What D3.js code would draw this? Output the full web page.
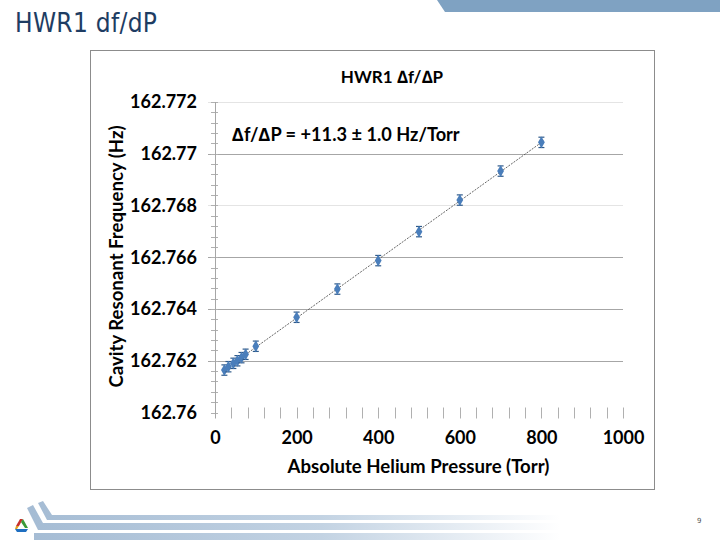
<!DOCTYPE html>
<html><head><meta charset="utf-8">
<script src="https://cdn.jsdelivr.net/npm/d3@7"></script>
<style>body{margin:0;background:#fff}svg{display:block}</style>
</head><body>
<script>
// ---- data ----
const pressure = [23, 33, 45, 55, 65, 75, 100, 200, 300, 400, 500, 600, 700, 800];
const frequency = [162.76164, 162.76177, 162.76190, 162.76200, 162.76212, 162.76225, 162.76256,
                   162.76368, 162.76477, 162.76587, 162.76699, 162.76821, 162.76933, 162.77044];
const freqErr = [0.0002,0.0002,0.0002,0.0002,0.0002,0.0002,0.0002,0.0002,0.0002,0.0002,0.0002,0.0002,0.0002,0.0002];
const pressErr = [4,4,4,4,4,4,4,4,4,4,4,4,4,4];
const yTicks = [162.76, 162.762, 162.764, 162.766, 162.768, 162.77, 162.772];
const yTickLabels = ["162.76","162.762","162.764","162.766","162.768","162.77","162.772"];
const xTicks = [0, 200, 400, 600, 800, 1000];
const xTickLabels = ["0","200","400","600","800","1000"];
const slideTitle = "HWR1 df/dP";
const chartTitle = "HWR1 \u2206f/\u2206P";
const annotation = "\u2206f/\u2206P = +11.3 \u00b1 1.0 Hz/Torr";
const xTitle = "Absolute Helium Pressure (Torr)";
const yTitle = "Cavity Resonant Frequency (Hz)";
const pageNum = "9";

const W = 720, H = 540;
const svg = d3.select("body").append("svg").attr("width", W).attr("height", H);
const defs = svg.append("defs");

// ---- slide decorations ----
svg.append("polygon").attr("points", "437,0 720,0 720,12 445,12").attr("fill", "#7fa2c2");
svg.append("text").attr("x", 15).attr("y", 32).text(slideTitle)
  .attr("font-family", "'DejaVu Sans Condensed','DejaVu Sans',sans-serif")
  .attr("font-size", 26).attr("letter-spacing", 0.3).attr("fill", "#1e3d63");

const grad = defs.append("linearGradient").attr("id", "band").attr("gradientUnits", "userSpaceOnUse")
  .attr("x1", 30).attr("x2", 560).attr("y1", 0).attr("y2", 0);
grad.append("stop").attr("offset", 0).attr("stop-color", "#a5bcd4");
grad.append("stop").attr("offset", 0.55).attr("stop-color", "#c3d3e3");
grad.append("stop").attr("offset", 1).attr("stop-color", "#ffffff");
const deco = svg.append("g").attr("fill", "url(#band)");
deco.append("polygon").attr("points", "38,503 43,501 52,515 560,515 560,520 47,520");
deco.append("polygon").attr("points", "27,508 33,505 43,523 560,523 560,530 38,530");
deco.append("rect").attr("x", 34).attr("y", 533).attr("width", 526).attr("height", 7);
// logo
const logo = svg.append("g").attr("transform", "translate(15,519)");
logo.append("polygon").attr("points", "5,0 8,0 4,7 1,7").attr("fill", "#c9302c");
logo.append("polygon").attr("points", "8,0 13,9 10,9 6,3").attr("fill", "#3a9a3a");
logo.append("polygon").attr("points", "0,10 13,10 11,13 2,13").attr("fill", "#1f6fc1");
logo.append("polygon").attr("points", "1,7 4,7 2,10 0,10").attr("fill", "#e0a020");
svg.append("text").attr("x", 697).attr("y", 523).text(pageNum)
  .attr("font-family", "'DejaVu Sans',sans-serif").attr("font-size", 7).attr("fill", "#555");

// ---- chart frame ----
svg.append("rect").attr("x", 90.5).attr("y", 50.5).attr("width", 564).attr("height", 439)
  .attr("fill", "#fff").attr("stroke", "#8c8c8c").attr("stroke-width", 1);

const x = d3.scaleLinear().domain([0, 1000]).range([215, 623]);
const y = d3.scaleLinear().domain([162.76, 162.772]).range([412.5, 102]);
const font = "Lato,'Open Sans',sans-serif";

// gridlines
svg.append("g").selectAll("line").data(yTicks.slice(1)).join("line")
  .attr("x1", x(0) - 7).attr("x2", x(1000))
  .attr("y1", d => Math.round(y(d)) + 0.5).attr("y2", d => Math.round(y(d)) + 0.5)
  .attr("stroke", (d, i) => (i === 3 || i === 5) ? "#e4e4e4" : "#a6a6a6");

// y minor ticks
const yMinor = d3.range(0, 31).map(i => 162.76 + i * 0.0004);
svg.append("g").selectAll("line").data(yMinor).join("line")
  .attr("x1", x(0) - 4).attr("x2", x(0) + 3)
  .attr("y1", d => Math.round(y(d)) + 0.5).attr("y2", d => Math.round(y(d)) + 0.5)
  .attr("stroke", "#b0b0b0");
// x minor ticks
const xMinor = d3.range(1, 26).map(i => i * 40);
svg.append("g").selectAll("line").data(xMinor).join("line")
  .attr("x1", d => Math.round(x(d)) + 0.5).attr("x2", d => Math.round(x(d)) + 0.5)
  .attr("y1", y(162.76) - 5).attr("y2", y(162.76) + 6)
  .attr("stroke", "#b0b0b0");
// y axis line
svg.append("line").attr("x1", x(0) + 0.5).attr("x2", x(0) + 0.5)
  .attr("y1", y(162.772)).attr("y2", y(162.76) + 6).attr("stroke", "#a6a6a6");

// tick labels via d3 axes
const yAxis = d3.axisLeft(y).tickValues(yTicks).tickFormat((d, i) => yTickLabels[i]).tickSize(0).tickPadding(18);
const gy = svg.append("g").attr("transform", `translate(${x(0)},0)`).call(yAxis);
gy.select(".domain").remove();
gy.selectAll("text").attr("font-family", font).attr("font-weight", "bold").attr("font-size", 18).attr("fill", "#000");

const xAxis = d3.axisBottom(x).tickValues(xTicks).tickFormat((d, i) => xTickLabels[i]).tickSize(0).tickPadding(19);
const gx = svg.append("g").attr("transform", `translate(0,${y(162.76)})`).call(xAxis);
gx.select(".domain").remove();
gx.selectAll("text").attr("font-family", font).attr("font-weight", "bold").attr("font-size", 18).attr("fill", "#000");

// titles
svg.append("text").attr("x", 392).attr("y", 83).attr("text-anchor", "middle").text(chartTitle)
  .attr("font-family", font).attr("font-weight", "bold").attr("font-size", 17);
svg.append("text").attr("x", 232).attr("y", 141).text(annotation)
  .attr("font-family", font).attr("font-weight", "bold").attr("font-size", 18.2);
svg.append("text").attr("x", 418.5).attr("y", 473).attr("text-anchor", "middle").text(xTitle)
  .attr("font-family", font).attr("font-weight", "bold").attr("font-size", 18.6);
svg.append("text").attr("transform", "translate(123,256.5) rotate(-90)").attr("text-anchor", "middle").text(yTitle)
  .attr("font-family", font).attr("font-weight", "bold").attr("font-size", 18.6);

// trend line (least-squares fit)
const mx = d3.mean(pressure), my = d3.mean(frequency);
const slope = d3.sum(pressure.map((p, i) => (p - mx) * (frequency[i] - my))) / d3.sum(pressure.map(p => (p - mx) ** 2));
const icpt = my - slope * mx;
svg.append("line").attr("x1", x(18)).attr("y1", y(icpt + slope * 18))
  .attr("x2", x(805)).attr("y2", y(icpt + slope * 805))
  .attr("stroke", "#555").attr("stroke-width", 0.9).attr("stroke-dasharray", "2,1.2");

// points with error bars
const pts = pressure.map((p, i) => ({p, f: frequency[i], fe: freqErr[i], pe: pressErr[i]}));
const blue = "#4a7ebb";
const ec = "#2f5a8a";
const pg = svg.append("g").selectAll("g").data(pts).join("g");
pg.append("line").attr("x1", d => x(d.p)).attr("x2", d => x(d.p))
  .attr("y1", d => y(d.f - d.fe)).attr("y2", d => y(d.f + d.fe)).attr("stroke", ec).attr("stroke-width", 1.2);
pg.append("line").attr("x1", d => x(d.p) - 3).attr("x2", d => x(d.p) + 3)
  .attr("y1", d => y(d.f - d.fe)).attr("y2", d => y(d.f - d.fe)).attr("stroke", ec).attr("stroke-width", 1.2);
pg.append("line").attr("x1", d => x(d.p) - 3).attr("x2", d => x(d.p) + 3)
  .attr("y1", d => y(d.f + d.fe)).attr("y2", d => y(d.f + d.fe)).attr("stroke", ec).attr("stroke-width", 1.2);
pg.append("line").attr("x1", d => x(d.p - d.pe)).attr("x2", d => x(d.p + d.pe))
  .attr("y1", d => y(d.f)).attr("y2", d => y(d.f)).attr("stroke", ec).attr("stroke-width", 1.2);
pg.append("path").attr("transform", d => `translate(${x(d.p)},${y(d.f)})`)
  .attr("d", d3.symbol(d3.symbolDiamond, 40)).attr("fill", blue);
</script>
</body></html>
